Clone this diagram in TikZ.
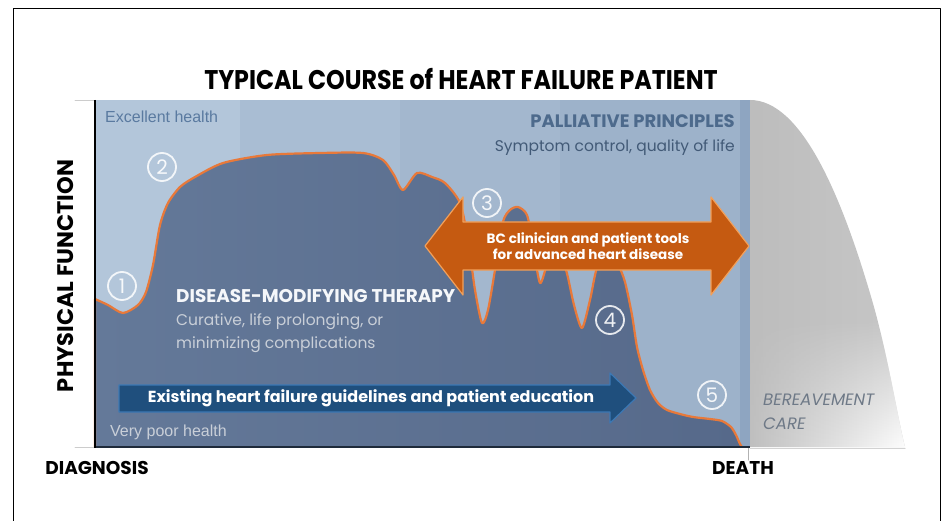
\documentclass[tikz,border=0pt]{standalone}
\usepackage{fontspec}
\setmainfont{Poppins}
\newfontfamily\helv{Liberation Sans}
\usetikzlibrary{fadings}

\definecolor{bandA}{HTML}{B3C6DA}
\definecolor{bandB}{HTML}{A9BDD3}
\definecolor{bandC}{HTML}{A3B7CE}
\definecolor{bandD}{HTML}{9DB2CA}
\definecolor{bandE}{HTML}{8EA5C1}
\definecolor{hfdarkL}{HTML}{647999}
\definecolor{hfdarkR}{HTML}{56698A}
\definecolor{hforange}{HTML}{E8793A}
\definecolor{toolorange}{HTML}{C55A11}
\definecolor{toolrim}{HTML}{F2A05A}
\definecolor{guideblue}{HTML}{1F4F7D}
\definecolor{guiderim}{HTML}{3C78B4}
\definecolor{palltxt}{HTML}{4D6A8C}
\definecolor{healthtxt}{HTML}{5A7AA0}
\definecolor{poortxt}{HTML}{C9CFD8}
\definecolor{bereavetxt}{HTML}{6E7987}
\definecolor{axisnavy}{HTML}{1E2A3A}

\newcommand\fsz[1]{\fontsize{#1}{#1}\selectfont}

\begin{document}
\begin{tikzpicture}[
  x=1pt, y=-1pt, line cap=round, line join=round,
  every node/.style={inner sep=0pt},
  axislbl/.style={font=\bfseries\fsz{18.5}, text=black},
  health/.style={font=\helv\fsz{16}},
  stage/.style={circle, draw=white, line width=1.8pt, minimum size=28pt,
                text=white, font=\fsz{20}, draw opacity=0.85, text opacity=0.9},
  course/.style={hforange, line width=2.2pt},
  tooltxt/.style={text=white, font=\bfseries\fsz{13.5}, align=center}
]
\useasboundingbox (0,0) rectangle (947,521);

% outer frame (open at the bottom)
\draw[black, line width=1pt] (13,521) -- (13,9) -- (940,9) -- (940,521);

\node[font=\bfseries\fsz{27}] (title) at (461,79)
  {\scalebox{0.88}[1]{TYPICAL COURSE of HEART FAILURE PATIENT}};

% --- background bands of the plot area
\foreach \xa/\xb/\col in {95/240/bandA, 240/400/bandB, 400/560/bandC,
                          560/740/bandD, 740/750/bandE}
  \fill[\col] (\xa,100) rectangle (\xb,447);

% --- bereavement bell (grey, fading to the right and bottom)
\begin{scope}
  \clip (750,100) .. controls (800,100) and (840,190) .. (872,300)
        .. controls (888,355) and (898,420) .. (905,447) -- (750,447) -- cycle;
  \shade[left color=gray!52, right color=gray!44] (750,100) rectangle (910,447);
  \shade[path fading=north, left color=gray!50, middle color=gray!22, right color=white]
    (750,320) rectangle (910,447);
\end{scope}

% --- physical function over time
\draw[course, preaction={left color=hfdarkL, right color=hfdarkR}]
  (95,447) -- plot[smooth, tension=0.45] coordinates {
    (95,299) (108,305) (123,313) (138,305) (146,292) (153,265) (160,225)
    (168,203) (180,187) (195,177) (223,163) (267,155) (320,153) (363,153)
    (383,160) (394,175) (403,190) (417,173) (432,177) (445,183) (460,203)
    (468,240) (475,290) (482,323) (488,310) (495,270) (503,222) (510,210)
    (518,207) (527,215) (533,245) (540,283) (548,262) (557,255) (566,270)
    (574,305) (582,328) (590,300) (597,268) (608,258) (618,265) (625,282)
    (632,315) (637,347) (643,370) (650,390) (658,403) (667,410) (680,414)
    (693,417) (710,419) (722,421) (731,427) (736,435) (740,444) (742,447)};

% axes
\draw[gray!40, line width=0.8pt] (75,100) -- (95,100) (75,447) -- (95,447);
\draw[gray!35, line width=1pt] (750,448) -- (905,448);
\draw[gray!60, line width=1pt] (748,447) -- (748,460);
\draw[axisnavy, line width=2.6pt, line cap=butt] (95,447) -- (750,447);
\draw[black, line width=2.5pt, line cap=butt] (95,100) -- (95,448.3);

\node[axislbl, rotate=90] (yaxis) at (66,276) {\fsz{22.5}PHYSICAL FUNCTION};
\node[axislbl] (diag) at (97,468) {DIAGNOSIS};
\node[axislbl] (death) at (743,468) {DEATH};

\node[health, text=healthtxt, anchor=west] (best) at (105,117) {Excellent health};
\node[health, text=poortxt, anchor=west] (worst) at (110,432) {Very poor health};

\node[anchor=east, text=palltxt, font=\bfseries\fsz{18}] (pall) at (735,121)
  {PALLIATIVE PRINCIPLES};
\node[anchor=east, text=palltxt!85!black, font=\fsz{15.5}] (pallsub) at (735,148)
  {Symptom control, quality of life};

\node[anchor=west, text=white!88!bandB, font=\bfseries\fsz{18.4}] (dmt) at (176,296)
  {DISEASE-MODIFYING THERAPY};
\node[anchor=west, text=poortxt, font=\fsz{15.5}] (dmt1) at (176,322)
  {Curative, life prolonging, or};
\node[anchor=west, text=poortxt, font=\fsz{15.5}] (dmt2) at (176,345)
  {minimizing complications};

% stages along the course
\foreach \n/\cx/\cy in {1/122/286, 2/162/167, 3/487/203, 4/610/320, 5/712/395}
  \node[stage] (s\n) at (\cx,\cy) {\n};

% guidelines arrow
\fill[guideblue, draw=guiderim, line width=1.2pt]
  (119,385) -- (610,385) -- (610,373) -- (636,398) -- (610,423)
  -- (610,412) -- (119,412) -- cycle;
\node[text=white, font=\bfseries\fsz{16}] (guide) at (371,398)
  {Existing heart failure guidelines and patient education};

% tools double arrow
\fill[toolorange, draw=toolrim, line width=1.2pt]
  (463,222) -- (711,222) -- (711,197) -- (749,246) -- (711,295) -- (711,270)
  -- (463,270) -- (463,295) -- (425,246) -- (463,197) -- cycle;
\node[tooltxt] (tools) at (588,246)
  {BC clinician and patient tools\\for advanced heart disease};

\node[anchor=west, text=bereavetxt, font=\itshape\fsz{16.5}, align=left] (bereave) at (763,412)
  {BEREAVEMENT\\[8pt]CARE};

\end{tikzpicture}
\end{document}
